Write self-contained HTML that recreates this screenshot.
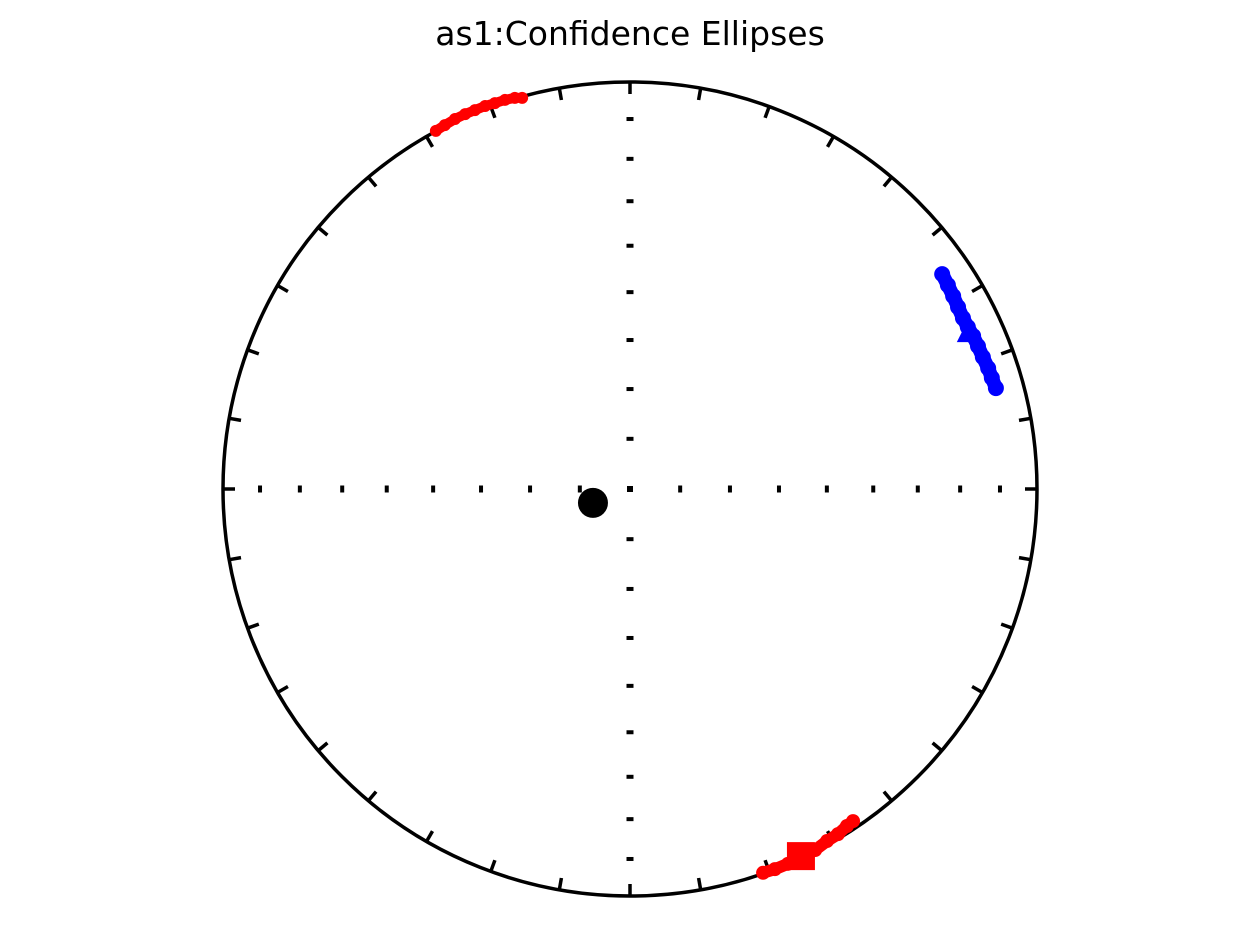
<!DOCTYPE html>
<html><head><meta charset="utf-8"><style>
html,body{margin:0;padding:0;background:#fff;}
svg{display:block;font-family:"DejaVu Sans","Liberation Sans",sans-serif;}
#title{font-size:33px;}
</style></head><body>
<svg id="chart" width="1260" height="937">
<text id="title" x="630" y="45" text-anchor="middle" style="font-size:33px">as1:Confidence Ellipses</text>
<g id="net"></g>
<g id="marks"></g>
</svg>
<script>
const redTopX = [-0.477,-0.455,-0.430,-0.405,-0.381,-0.356,-0.332,-0.307,-0.283,-0.265];
const redTopY = [0.880,0.894,0.909,0.921,0.931,0.941,0.948,0.956,0.961,0.961];
const blueX = [0.767,0.781,0.794,0.806,0.818,0.830,0.843,0.855,0.867,0.880,0.889,0.899];
const blueY = [0.528,0.501,0.474,0.447,0.420,0.398,0.376,0.351,0.324,0.297,0.273,0.248];
const redBotX = [0.327,0.356,0.388,0.420,0.455,0.484,0.511,0.533,0.548];
const redBotY = [-0.943,-0.934,-0.921,-0.907,-0.887,-0.865,-0.848,-0.828,-0.816];
const squarePt = [0.420,-0.902];
const trianglePt = [0.830,0.383];
const centerDot = [-0.091,-0.034];

const CX=630, CY=489, R=407, NS="http://www.w3.org/2000/svg";
const sx = v => CX + v*R;
const sy = v => CY - v*R;
const net=document.getElementById('net'), marks=document.getElementById('marks');
function mk(tag, attrs, parent){const e=document.createElementNS(NS,tag);for(const k in attrs)e.setAttribute(k,attrs[k]);parent.appendChild(e);return e;}

const circ=mk('circle',{cx:CX,cy:CY,r:R,fill:'none',stroke:'#000','stroke-width':3.5},net);


for(let a=0;a<360;a+=10){
  const t=a*Math.PI/180, s=Math.sin(t), c=Math.cos(t);
  const l=mk('line',{x1:CX+s*R,y1:CY-c*R,x2:CX+s*(R-12),y2:CY-c*(R-12),stroke:'#000','stroke-width':3.5},net);
  
  
}
for(let d=0;d<90;d+=10){
  const r=R*Math.SQRT2*Math.sin(d*Math.PI/360);
  const pts=d===0?[[0,0]]:[[r,0],[-r,0],[0,r],[0,-r]];
  pts.forEach(([dx,dy])=>{
    const horiz = dy===0 && d!==0;
    const w = horiz?4:7, h = horiz?7:4;
    const rc=mk('rect',{x:CX+dx-(d===0?3:w/2),y:CY+dy-(d===0?3:h/2),width:d===0?6:w,height:d===0?6:h,fill:'#000'},net);
    
    
  });
}
function cluster(xs,ys,color,name,w){
  const pl=mk('polyline',{points:xs.map((x,i)=>sx(x)+','+sy(ys[i])).join(' '),fill:'none',stroke:color,'stroke-width':w,'stroke-linecap':'round','stroke-linejoin':'round'},marks);
  
  
  xs.forEach((x,i)=>{
    const c=mk('circle',{cx:sx(x),cy:sy(ys[i]),r:w/2+1,fill:color},marks);
    
    
  });
}
cluster(redTopX,redTopY,'#ff0000','red-top-ellipse',10);
cluster(blueX,blueY,'#0000ff','blue-ellipse',14);
cluster(redBotX,redBotY,'#ff0000','red-bottom-ellipse',12);
const sq=mk('rect',{x:sx(squarePt[0])-14,y:sy(squarePt[1])-14,width:28,height:28,fill:'#ff0000'},marks);


const tx=sx(trianglePt[0]), ty=sy(trianglePt[1]);
const tr=mk('polygon',{points:`${tx},${ty-13} ${tx+11},${ty+9} ${tx-11},${ty+9}`,fill:'#0000ff'},marks);


const dt=mk('circle',{cx:sx(centerDot[0]),cy:sy(centerDot[1]),r:15,fill:'#000'},marks);


</script>
</body></html>
